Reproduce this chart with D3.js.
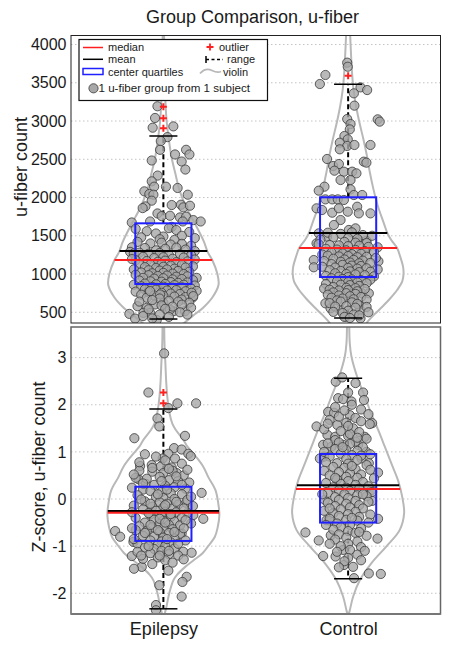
<!DOCTYPE html>
<html><head><meta charset="utf-8">
<script src="https://cdn.jsdelivr.net/npm/d3@7"></script>
<style>
body{margin:0;background:#fff}
svg{display:block}
text{font-family:"Liberation Sans",Arial,Helvetica,sans-serif;fill:#1a1a1a}
</style>
</head><body>
<svg id="chart" width="452" height="647"></svg>
<script>
// ---------------- DATA ----------------
const categories = ["Epilepsy", "Control"];
const titleText = "Group Comparison, u-fiber";
const countTicks = [500, 1000, 1500, 2000, 2500, 3000, 3500, 4000];
const zTicks = [-2, -1, 0, 1, 2, 3];

// summary statistics per category [Epilepsy, Control]
const countMedian = [1183, 1340];
const countMean = [1301, 1536];
const countQ1 = [870, 961];
const countQ3 = [1663, 2003];
const countRangeLow = [412, 425];
const countRangeHigh = [2804, 3480];
const countOutliers = [[3187, 3035, 2905], [3592]];

const zMedian = [-0.29, 0.21];
const zMean = [-0.255, 0.29];
const zQ1 = [-0.89, -0.50];
const zQ3 = [0.26, 0.955];
const zRangeLow = [-2.33, -1.69];
const zRangeHigh = [1.91, 2.56];
const zOutliers = [[2.26, 2.03], []];

// violin profiles: [value, relative density]
const epilepsyCountViolin = [[4130,0.012],[3800,0.018],[3500,0.027],[3200,0.04],[3000,0.058],[2800,0.09],[2530,0.145],[2310,0.215],[2090,0.29],[1870,0.41],[1650,0.57],[1430,0.72],[1290,0.79],[1180,0.875],[1000,0.965],[860,0.985],[700,0.88],[560,0.71],[450,0.52],[340,0.34]];
const controlCountViolin = [[4130,0.036],[3840,0.054],[3620,0.071],[3400,0.098],[3190,0.143],[2970,0.205],[2750,0.277],[2530,0.34],[2320,0.39],[2100,0.455],[1880,0.535],[1660,0.64],[1536,0.70],[1445,0.77],[1340,0.875],[1227,0.93],[1100,0.98],[1009,0.99],[900,0.965],[791,0.875],[680,0.75],[573,0.61],[480,0.48],[400,0.375],[340,0.31]];
const epilepsyZViolin = [[3.7,0.015],[3.3,0.02],[2.88,0.036],[2.5,0.05],[2.17,0.07],[1.82,0.11],[1.6,0.16],[1.47,0.22],[1.25,0.36],[1.11,0.43],[0.9,0.58],[0.69,0.71],[0.47,0.8],[0.19,0.93],[-0.09,0.98],[-0.34,1.0],[-0.6,0.97],[-0.8,0.92],[-1.0,0.8],[-1.15,0.7],[-1.3,0.54],[-1.44,0.39],[-1.6,0.25],[-1.72,0.18],[-2.0,0.105],[-2.29,0.054],[-2.45,0.02]];
const controlZViolin = [[3.7,0.02],[3.3,0.03],[3.02,0.06],[2.53,0.18],[2.17,0.30],[1.82,0.41],[1.47,0.535],[1.11,0.655],[0.76,0.77],[0.40,0.89],[0.05,0.965],[-0.30,1.0],[-0.66,0.92],[-1.01,0.68],[-1.37,0.41],[-1.72,0.21],[-2.07,0.09],[-2.36,0.03],[-2.45,0.01]];

// subject points: [jitter (% of category spacing), value]
const epilepsyCountPoints = [
[-3.2,3193],[-4.5,3040],[-5.8,2913],[5.4,2930],[2.2,2790],[-1.4,2738],[-1.8,2624],[12.3,2624],[14.1,2563],[6.3,2563],[9.9,2471],[-6.3,2484],[11.9,2366],[-3.1,2287],[-6.3,2212],[-5.0,2142],[1.4,2142],[7.7,2125],[-10.3,2081],[-7.6,2046],[-5.4,2037],[13.2,2037],[-6.3,1959],[-9.7,1884],[-11.2,1862],[4.5,1902],[9.5,1906],[10.8,1871],[14.4,1893],[-3.2,1792],[-0.9,1757],[3.6,1762],[9.0,1740],[12.3,1749],[16.2,1705],[20.2,1687],[-17.1,1674],[-7.2,1687],[4.5,1617],[10.5,1687],
[-15,1590],[-9,1560],[3,1600],[7,1575],[14,1550],[-4,1530],[10,1500],[-12,1480],[0,1490],[17,1470],[-2,1455],[6,1445],
[-14,1420],[-7,1400],[-1,1410],[4,1385],[10,1395],[15,1370],[-17,1350],[-10,1340],[1,1330],[7,1345],[12,1320],[-4,1310],[17,1300],[-18,1290],[-16,1270],
[-13,1280],[-8,1265],[-2,1275],[3,1250],[9,1260],[15,1245],[-11,1225],[-5,1210],[0,1220],[5,1200],[11,1215],[17,1190],[-15,1180],[-9,1170],[-3,1160],[1,1175],[7,1155],[13,1165],[-17,1195],
[-13,1135],[-7,1125],[-1,1130],[4,1110],[10,1120],[16,1100],[-10,1090],[-4,1080],[0,1095],[6,1070],[12,1085],[-16,1060],[-8,1050],[-2,1045],[2,1060],[8,1040],[14,1030],[-12,1020],[-6,1010],[0,1015],[5,1005],[11,1000],
[-15,990],[-8,985],[-3,975],[2,980],[7,965],[13,970],[18,950],[-11,950],[-5,940],[0,945],[5,930],[10,935],[16,920],[-13,915],[-7,905],[-1,900],[4,895],[8,885],[13,890],[-10,875],[-4,865],[1,870],[6,855],[11,860],[17,850],[-16,860],
[-12,840],[-6,830],[0,835],[5,820],[10,825],[15,810],[-10,800],[-4,795],[2,785],[7,790],[12,775],[18,780],[-15,770],[-8,760],[-1,755],[4,745],[9,740],[-12,730],[-5,720],[0,715],[6,705],[12,700],[-9,690],[16,695],
[-7.2,777],[-1.8,733],[15.3,755],[16.2,711],[9.9,667],[-14,580],[-9,558],[-4.5,602],[0,624],[5.4,514],[11.7,514],[-18.4,479],[-15.3,418],[-3.6,400],[-7.2,492],[3.6,536],[-10.8,492],
[-2,680],[3,650],[8,640],[-6,660],[14,625],[-13,640],[10,600],[-1,590],[5,575],[15,560],[-8,540],[1,545],[9,500],[-2,470],[3,440],[-11,450],[13,470],[-6,420]
];
const controlCountPoints = [
[-0.5,3763],[-0.2,3710],[-12.3,3602],[-15.3,3484],[6.7,3440],[10.3,3405],[3.1,3362],[3.4,3201],[16.0,3022],[17.1,2992],[-0.5,3026],[1.3,2961],[0.9,2891],[-2.0,2804],[-0.2,2761],[-4.5,2717],[-0.5,2674],[-4.5,2630],[3.4,2687],[12.1,2687],[-11.4,2504],[-8.1,2412],[-5.0,2438],[8.5,2469],[9.9,2456],[-7.4,2351],[-2.3,2338],[2.2,2338],[4.5,2316],[-4.1,2229],[1.3,2229],[-12.8,2142],[-15.9,2090],[1.3,2107],[3.1,2033],[7.6,2033],[-12.3,1976],[-8.6,1976],[-5.6,1976],[-2.3,1968],[-17.1,1859],[-14.1,1837],[-8.6,1802],[-5.0,1859],[-0.2,1815],[4.9,1880],[5.8,1793],[12.1,1793],[-4.1,1706],[-7.7,1641],[0.4,1576],[4.0,1597],[-15.9,1532],[-11.4,1488],[5.8,1445],[9.9,1436],[-17.1,1401],[-18.6,1183],[-18.6,1088],[16.4,1166],[7.6,748],[11.2,748],[-12.3,617],[-9.5,552],[-4.1,530],[5.8,595],[6.5,530],[-1.4,443],[6.7,421],
[-11,1540],[-4,1525],[2,1545],[8,1510],[13,1500],[-8,1480],[0,1470],[5,1460],[-15,1450],[-2,1420],[4,1410],[10,1405],
[-16,1390],[-10,1380],[-5,1375],[0,1365],[6,1370],[11,1355],[16,1350],[-12,1330],[-6,1320],[-1,1310],[4,1315],[9,1300],[14,1290],[-9,1280],[-3,1270],[2,1260],[7,1265],[-14,1255],
[-11,1240],[-5,1230],[0,1235],[5,1220],[10,1225],[15,1210],[-8,1200],[-2,1190],[3,1185],[8,1175],[-13,1170],[-4,1160],[1,1150],[6,1140],[12,1145],[-9,1130],[-3,1120],[2,1110],[7,1105],
[-14,1095],[-7,1085],[0,1080],[5,1070],[10,1075],[16,1060],[-10,1050],[-4,1040],[1,1035],[6,1025],[12,1030],[-7,1010],[-1,1000],[4,995],[9,985],[-12,975],[-5,965],[0,960],[14,970],
[-9,945],[-3,935],[2,930],[7,920],[12,925],[-6,905],[0,895],[5,890],[10,880],[-12,870],[-4,860],[1,855],[6,845],[-8,830],[-1,820],[4,815],[9,805],[-13,810],
[-10,795],[-5,785],[0,790],[5,775],[-8,760],[-1,750],[4,740],[-11,730],[-5,720],[1,710],[7,700],[-9,690],[-3,680],[3,670],[10,665],[-6,655],
[-4,640],[2,630],[-10,620],[5,610],[-1,580],[4,560],[-7,575],[10,570],[0,520],[-3,490],[3,470],[-8,505],[11,500],[6,460],[-2,440],[1,425]
];
const epilepsyZPoints = [
[0.4,3.09],[-8.1,2.26],[7.6,2.03],[17.7,2.03],[2.7,1.93],[-3.2,1.71],[-2.2,1.54],[-15.7,1.29],[11.7,1.34],[5.8,1.08],[9.9,1.05],[2.7,0.96],[-0.4,0.86],[6.3,0.86],[13.5,0.96],[14.8,0.91],[-12.6,0.70],[-6.3,0.72],[-1.4,0.69],[4.5,0.67],[7.2,0.55],[-13.5,0.42],[-9.4,0.32],[20.7,0.13],[12.3,-0.08],[16.2,-0.34],[21.6,-0.42],[-26.1,-0.68],[-23.4,-0.80],[-16.2,-0.91],[9.9,-0.73],[10.8,-1.12],[15.3,-1.14],[-17.1,-1.21],[-11.7,-1.44],[-15.9,-1.48],[2.7,-1.52],[12.6,-1.65],[10.3,-1.76],[-2.2,-1.83],[9.9,-2.07],[-4.0,-2.25],[-4.0,-2.36],
[-13,0.6],[-6,0.58],[0,0.55],[5,0.6],[11,0.5],[-15,0.45],[-9,0.43],[-2,0.47],[3,0.4],[8,0.38],[14,0.35],[-5,0.3],[1,0.28],[6,0.25],[12,0.22],[-17,0.24],[-11,0.2],
[-7,0.17],[-1,0.15],[4,0.12],[10,0.1],[-14,0.08],[-4,0.05],[0,0.02],[6,0],[13,-0.02],[-10,-0.05],[-2,-0.07],[2,-0.1],[8,-0.12],[-16,-0.14],[-6,-0.16],[0,-0.18],[5,-0.2],[16,-0.15],
[-11,-0.22],[-4,-0.25],[1,-0.27],[7,-0.28],[13,-0.3],[-7,-0.33],[-1,-0.36],[4,-0.38],[10,-0.4],[-15,-0.4],[-5,-0.44],[0,-0.46],[6,-0.48],[-10,-0.5],[-2,-0.53],[3,-0.55],[9,-0.56],[15,-0.52],[-13,-0.58],
[-6,-0.6],[0,-0.62],[5,-0.64],[-15,-0.66],[-9,-0.68],[-2,-0.7],[3,-0.72],[9,-0.74],[-11,-0.78],[-5,-0.8],[0,-0.82],[6,-0.84],[-7,-0.88],[-1,-0.9],[4,-0.92],[12,-0.88],[-14,-0.95],[-3,-0.97],
[1,-1.0],[-10,-1.03],[-5,-1.06],[6,-1.05],[-1,-1.1],[-14,-1.12],[-7,-1.15],[3,-1.17],[8,-1.2],[-3,-1.24],[-11,-1.27],[1,-1.3],[5,-1.35],[-6,-1.38],
[-10,0.95],[-4,0.9],[1,0.82],[-13,0.78],[10,0.75],[-6,0.66],[3,0.64],[13,0.62],
[-16,0.52],[7,0.48],[-1,0.38],[-11,0.33],[10,0.3],[2,0.2],[-3,0.1],[15,0.05],[-12,-0.01],[7,-0.06],[-7,-0.1],[1,-0.13],[11,-0.2],[-17,-0.28],[-8,-0.3],[4,-0.32],[-2,-0.42],[12,-0.45],[-7,-0.55],[1,-0.5],[-17,-0.62],[11,-0.62],[-3,-0.66],[6,-0.7],[-10,-0.72],[2,-0.85],[-16,-0.85],[8,-0.95],[-8,-1.0],[3,-1.1],[-12,-1.2],[-2,-1.2],[11,-1.28]
];
const controlZPoints = [
[-6.7,2.49],[-3.2,2.58],[4.0,2.46],[0,2.26],[8.1,2.26],[8.6,2.10],[-5.4,2.14],[-2.7,2.12],[1.8,2.07],[-10.8,1.85],[-7.6,1.83],[0.9,1.78],[13.0,1.61],[11.7,1.59],[-17.1,1.54],[-5.8,1.57],[2.7,1.50],[-11.2,1.36],[-7.0,1.32],[9.0,1.32],[0,1.34],[-13.5,1.15],[-9.0,1.11],[-2.7,1.15],[5.4,1.15],[9.9,1.00],[-15.3,0.86],[-13.0,0.90],[7.2,0.86],[11.2,0.76],[16.2,0.56],[12.6,0.19],[13.0,-0.04],[-12.6,-0.02],[16.2,-0.42],[-11.7,-0.45],[-9.9,-0.46],[-23.1,-0.71],[-15.9,-0.88],[15.9,-0.84],[-9.4,-0.77],[-13.5,-1.21],[-6.8,-1.22],[-2.7,-1.08],[-2.2,-1.40],[2.7,-1.44],[11.2,-1.58],[17.7,-1.59],[3.2,-1.68],
[-5,1.75],[4,1.72],[-10,1.68],[7,1.65],[-1,1.62],[-13,1.48],[-4,1.44],[6,1.42],[1,1.38],[10,1.28],[-7,1.25],[4,1.22],
[-11,1.18],[-5,1.2],[1,1.17],[8,1.1],[-7,1.06],[-1,1.04],[5,1.02],[-13,1.0],[12,0.95],[-4,0.96],[2,0.93],[7,0.92],[-10,0.9],[-1,0.85],[5,0.83],
[-12,0.78],[-6,0.76],[0,0.75],[10,0.72],[-8,0.68],[-2,0.66],[4,0.63],[12,0.62],[-13,0.6],[-5,0.57],[1,0.55],[7,0.52],[-10,0.5],[-1,0.47],[5,0.45],[14,0.44],[-6,0.42],
[0,0.38],[8,0.36],[-12,0.34],[-4,0.32],[4,0.3],[11,0.27],[-8,0.25],[-1,0.24],[6,0.22],[-5,0.19],[1,0.17],[13,0.15],[-11,0.13],[-2,0.1],[5,0.08],[10,0.06],[-7,0.04],[0,0.02],[-14,0.1],
[-5,-0.02],[4,-0.04],[11,-0.06],[-11,-0.08],[-1,-0.1],[6,-0.13],[-7,-0.15],[1,-0.18],[8,-0.2],[-4,-0.22],[-13,-0.25],[4,-0.27],[-8,-0.3],[0,-0.32],[12,-0.33],[-5,-0.36],[6,-0.38],
[-10,-0.42],[-1,-0.44],[5,-0.46],[11,-0.5],[-6,-0.52],[1,-0.55],[-4,-0.6],[7,-0.62],[-8,-0.65],[0,-0.68],[4,-0.72],[-5,-0.75],[10,-0.78],
[-1,-0.82],[-7,-0.86],[5,-0.9],[0,-0.95],[-4,-1.0],[7,-1.02],[1,-1.08],[-6,-1.12],[5,-1.18],[0,-1.25],[-2,-1.32],
[2,2.0],[-7,1.95],[7,1.9],[-2,1.88],[11,1.8],[-11,1.6],[0,1.55],[5,1.3],[-3,1.1],[2,0.7],[-7,0.45],[8,0.1],[-10,-0.2],[2,-0.4],[-12,-0.55],[6,-0.7],[-10,-0.95],[9,-1.1],[-5,-1.45],[7,-1.3]
];

// legend entries
const legendLabels = ["median", "mean", "center quartiles", "outlier", "range", "violin", "1 u-fiber group from 1 subject"];

// ---------------- LAYOUT / STYLE ----------------
const svg = d3.select("#chart");
const plotL = 71, plotR = 440.5;
const BOX_HALF = 0.152, CAP_HALF = 0.076;
const x = d3.scaleLinear().domain([0.5, 2.5]).range([plotL, plotR]);
const halfW = d3.scaleLinear().domain([0, 1]).range([0, 56]);
const RED = "#ff1f1f", BLUE = "#1f1fff";
const FONT = '"Liberation Sans",Arial,sans-serif';

const panels = [
  {id:"count", top:35.5, bottom:323, domain:[360, 4118], ticks:countTicks,
   median:countMedian, mean:countMean, q1:countQ1, q3:countQ3, lo:countRangeLow, hi:countRangeHigh, outliers:countOutliers,
   violins:[epilepsyCountViolin, controlCountViolin], points:[epilepsyCountPoints, controlCountPoints],
   label:"u-fiber count", labelX:26.5, labelY:167, frame:"#222", frameW:1},
  {id:"z", top:327, bottom:614, domain:[-2.44, 3.65], ticks:zTicks,
   median:zMedian, mean:zMean, q1:zQ1, q3:zQ3, lo:zRangeLow, hi:zRangeHigh, outliers:zOutliers,
   violins:[epilepsyZViolin, controlZViolin], points:[epilepsyZPoints, controlZPoints],
   label:"Z-score, u-fiber count", labelX:44.5, labelY:467, frame:"#666", frameW:1.5}
];

function hwAt(profile, v) {
  for (let k = 0; k < profile.length - 1; k++) {
    const a = profile[k], b = profile[k + 1];
    if (v <= a[0] && v >= b[0]) {
      const t = (v - a[0]) / (b[0] - a[0]);
      return a[1] + t * (b[1] - a[1]);
    }
  }
  return 0;
}

svg.append("text").attr("x", 252.5).attr("y", 23.3).attr("text-anchor", "middle")
  .style("font-size", "18px").text(titleText);

panels.forEach((p, pi) => {
  const y = d3.scaleLinear().domain(p.domain).range([p.bottom, p.top]);
  const g = svg.append("g");
  const clipId = "clip-" + p.id;
  svg.append("clipPath").attr("id", clipId).append("rect")
    .attr("x", plotL).attr("y", p.top).attr("width", plotR - plotL).attr("height", p.bottom - p.top);

  // grid
  g.append("g").selectAll("line").data(p.ticks).join("line")
    .attr("x1", plotL).attr("x2", plotR).attr("y1", d => y(d)).attr("y2", d => y(d))
    .attr("stroke", "#c4c4c4").attr("stroke-width", 1).attr("stroke-dasharray", "1.5,2.5");

  // y axis labels
  const ax = g.append("g").attr("transform", `translate(${plotL},0)`)
    .call(d3.axisLeft(y).tickValues(p.ticks).tickSize(0).tickPadding(4.5).tickFormat(d => String(d)));
  ax.select(".domain").remove();
  ax.selectAll("text").style("font-size", "16px").style("font-family", FONT).attr("fill", "#1a1a1a");

  g.append("text").attr("transform", `translate(${p.labelX},${p.labelY}) rotate(-90)`)
    .attr("text-anchor", "middle").style("font-size", "18px").text(p.label);

  const plot = g.append("g").attr("clip-path", `url(#${clipId})`);

  // violins and dashed ranges beneath the points
  categories.forEach((c, i) => {
    const ci = i + 1;
    const cx = x(ci);
    const area = d3.area()
      .y(d => y(d[0]))
      .x0(d => cx - halfW(d[1]))
      .x1(d => cx + halfW(d[1]))
      .curve(d3.curveCatmullRom);
    plot.append("path").datum(p.violins[i]).attr("d", area)
      .attr("fill", "none").attr("stroke", "#b8b8b8").attr("stroke-width", 2);
    [[p.q3[i], p.hi[i]], [p.q1[i], p.lo[i]]].forEach(([a, b]) => {
      plot.append("line").attr("x1", cx).attr("x2", cx).attr("y1", y(a)).attr("y2", y(b))
        .attr("stroke", "#000").attr("stroke-width", 2).attr("stroke-dasharray", "5,3");
    });
  });

  categories.forEach((c, i) => {
    const ci = i + 1;
    plot.append("g").selectAll("circle").data(p.points[i]).join("circle")
      .attr("cx", d => x(ci + d[0] / 100)).attr("cy", d => y(d[1])).attr("r", 4.6)
      .attr("fill", "#a8a8a8").attr("fill-opacity", 0.8)
      .attr("stroke", "#3a3a3a").attr("stroke-width", 0.8);
  });

  categories.forEach((c, i) => {
    const ci = i + 1;
    const cx = x(ci);
    plot.append("rect").attr("x", x(ci - BOX_HALF)).attr("width", x(ci + BOX_HALF) - x(ci - BOX_HALF))
      .attr("y", y(p.q3[i])).attr("height", y(p.q1[i]) - y(p.q3[i]))
      .attr("fill", "none").attr("stroke", BLUE).attr("stroke-width", 2);
    [p.hi[i], p.lo[i]].forEach(b => {
      plot.append("line").attr("x1", x(ci - CAP_HALF)).attr("x2", x(ci + CAP_HALF)).attr("y1", y(b)).attr("y2", y(b))
        .attr("stroke", "#000").attr("stroke-width", 1.5);
    });
    const prof = p.violins[i];
    [[p.mean[i], "#000"], [p.median[i], RED]].forEach(([v, col]) => {
      const hw = halfW(hwAt(prof, v));
      plot.append("line").attr("x1", cx - hw).attr("x2", cx + hw).attr("y1", y(v)).attr("y2", y(v))
        .attr("stroke", col).attr("stroke-width", 2);
    });
    plot.append("g").selectAll("path").data(p.outliers[i]).join("path")
      .attr("d", d => `M${cx - 3.5},${y(d)}H${cx + 3.5}M${cx},${y(d) - 3.5}V${y(d) + 3.5}`)
      .attr("stroke", RED).attr("stroke-width", 2).attr("fill", "none");
  });

  // frame
  g.append("rect").attr("x", plotL).attr("y", p.top).attr("width", plotR - plotL).attr("height", p.bottom - p.top)
    .attr("fill", "none").attr("stroke", p.frame).attr("stroke-width", p.frameW);

  if (pi === 1) {
    g.append("line").attr("x1", plotL).attr("x2", plotR).attr("y1", p.bottom).attr("y2", p.bottom)
      .attr("stroke", "#777").attr("stroke-width", 2.2);
    const xa = g.append("g").attr("transform", `translate(0,${p.bottom})`)
      .call(d3.axisBottom(x).tickValues([1, 2]).tickSize(0).tickPadding(8).tickFormat(d => categories[d - 1]));
    xa.select(".domain").remove();
    xa.selectAll("text").style("font-size", "18px").style("font-family", FONT).attr("fill", "#1a1a1a");
  }

  if (pi === 0) {
    const lg = svg.append("g");
    lg.append("rect").attr("x", 79).attr("y", 39.5).attr("width", 188.5).attr("height", 61)
      .attr("fill", "#fff").attr("stroke", "#111").attr("stroke-width", 1.2);
    const fs = "11px";
    lg.append("line").attr("x1", 83).attr("x2", 103).attr("y1", 47.5).attr("y2", 47.5).attr("stroke", RED).attr("stroke-width", 1.5);
    lg.append("text").attr("x", 108).attr("y", 50.5).style("font-size", fs).text(legendLabels[0]);
    lg.append("line").attr("x1", 83).attr("x2", 103).attr("y1", 59.3).attr("y2", 59.3).attr("stroke", "#000").attr("stroke-width", 1.5);
    lg.append("text").attr("x", 108).attr("y", 63.2).style("font-size", fs).text(legendLabels[1]);
    lg.append("rect").attr("x", 83).attr("y", 68.5).attr("width", 20).attr("height", 6).attr("fill", "none").attr("stroke", BLUE).attr("stroke-width", 1.5);
    lg.append("text").attr("x", 108).attr("y", 75.8).style("font-size", fs).text(legendLabels[2]);
    lg.append("path").attr("d", "M206.5,47H213.5M210,43.5V50.5").attr("stroke", RED).attr("stroke-width", 1.8);
    lg.append("text").attr("x", 219).attr("y", 50.5).style("font-size", fs).text(legendLabels[3]);
    lg.append("line").attr("x1", 206).attr("x2", 206).attr("y1", 56).attr("y2", 63).attr("stroke", "#000").attr("stroke-width", 1.5);
    lg.append("line").attr("x1", 206).attr("x2", 223).attr("y1", 59.5).attr("y2", 59.5).attr("stroke", "#000").attr("stroke-width", 1.5).attr("stroke-dasharray", "3,2.5");
    lg.append("text").attr("x", 227).attr("y", 63.2).style("font-size", fs).text(legendLabels[4]);
    lg.append("path").attr("d", "M200,73.5C204,69 208,68.5 212,70.5S218,73 221,71.5")
      .attr("fill", "none").attr("stroke", "#b8b8b8").attr("stroke-width", 1.8);
    lg.append("text").attr("x", 223).attr("y", 75.8).style("font-size", fs).text(legendLabels[5]);
    lg.append("circle").attr("cx", 93.5).attr("cy", 88.3).attr("r", 4.6).attr("fill", "#a8a8a8").attr("stroke", "#3a3a3a").attr("stroke-width", 0.8);
    lg.append("text").attr("x", 98.5).attr("y", 92.3).style("font-size", "11.6px").text(legendLabels[6]);
  }
});
</script>
</body></html>
